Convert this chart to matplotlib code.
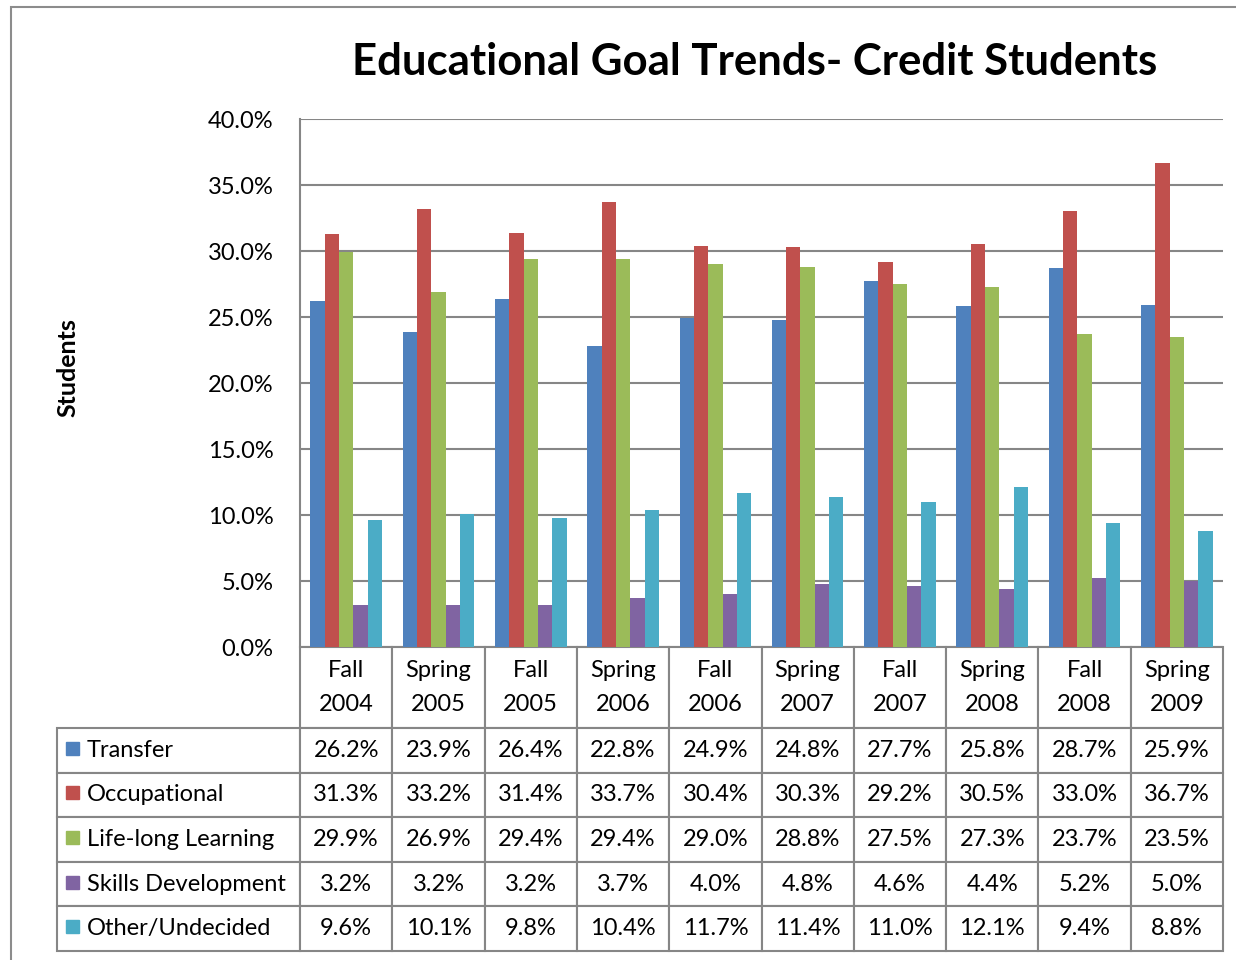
"""Educational goal trends for credit students: grouped bars with an Excel-style data table."""
import numpy as np
import matplotlib
matplotlib.use("Agg")
import matplotlib.pyplot as plt
from matplotlib.patches import Rectangle
from matplotlib.ticker import FuncFormatter

plt.rcParams.update({"font.family": ["Lato", "DejaVu Sans"], "font.size": 17})

terms = ["Fall\n2004", "Spring\n2005", "Fall\n2005", "Spring\n2006", "Fall\n2006",
         "Spring\n2007", "Fall\n2007", "Spring\n2008", "Fall\n2008", "Spring\n2009"]
series_names = ["Transfer", "Occupational", "Life-long Learning", "Skills Development", "Other/Undecided"]
transfer = [26.2, 23.9, 26.4, 22.8, 24.9, 24.8, 27.7, 25.8, 28.7, 25.9]
occupational = [31.3, 33.2, 31.4, 33.7, 30.4, 30.3, 29.2, 30.5, 33.0, 36.7]
lifelong = [29.9, 26.9, 29.4, 29.4, 29.0, 28.8, 27.5, 27.3, 23.7, 23.5]
skills = [3.2, 3.2, 3.2, 3.7, 4.0, 4.8, 4.6, 4.4, 5.2, 5.0]
other = [9.6, 10.1, 9.8, 10.4, 11.7, 11.4, 11.0, 12.1, 9.4, 8.8]
yticks = [0, 5, 10, 15, 20, 25, 30, 35, 40]

series = [transfer, occupational, lifelong, skills, other]
colors = ["#4F81BD", "#C0504D", "#9BBB59", "#8064A2", "#4BACC6"]
GRID = "#868686"

W, H = 1236, 960
fig = plt.figure(figsize=(W / 100, H / 100), dpi=100)
# outer chart border
fig.patches.append(Rectangle((11 / W, -0.01), 1.0, (H - 7) / H + 0.01, transform=fig.transFigure,
                             fill=False, edgecolor="#8c8c8c", lw=1.5))

L, R, T, B = 300, 1223, 119, 647
ax = fig.add_axes([L / W, 1 - B / H, (R - L) / W, (B - T) / H])

x = np.arange(len(terms))
bw = 0.155
for i, (vals, c) in enumerate(zip(series, colors)):
    ax.bar(x + (i - 2) * bw, vals, bw, color=c, zorder=3)

ax.set_xlim(-0.5, len(terms) - 0.5)
ax.set_ylim(0, 40)
ax.set_yticks(yticks)
ax.yaxis.set_major_formatter(FuncFormatter(lambda v, p: "%.1f%%" % v))
ax.tick_params(axis="y", length=0, pad=19, labelsize=17)
ax.set_xticks([])
ax.grid(axis="y", color=GRID, lw=1.5, zorder=0)
for s in ["top", "right", "bottom"]:
    ax.spines[s].set_visible(False)
ax.spines["left"].set_color(GRID)
ax.spines["left"].set_linewidth(1.5)

# data table below the plot
TL, TB = 57, 951
col_w = [L - TL] + [(R - L) / len(terms)] * len(terms)
row_h = [81] + [(TB - B - 81) / len(series)] * len(series)
cell_text = [[""] + terms] + [[n] + ["%.1f%%" % v for v in vals] for n, vals in zip(series_names, series)]
tbl = ax.table(cellText=cell_text, cellLoc="center",
               bbox=[(TL - L) / (R - L), -(TB - B) / (B - T), (R - TL) / (R - L), (TB - B) / (B - T)])
tbl.auto_set_font_size(False)
tbl.set_fontsize(17)
for (r, c), cell in tbl.get_celld().items():
    cell.set_width(col_w[c])
    cell.set_height(row_h[r])
    cell.set_edgecolor(GRID)
    cell.set_linewidth(1.5)
    if r == 0:
        cell.get_text().set_linespacing(1.75)
        if c == 0:
            cell.visible_edges = "open"
    if c == 0 and r > 0:
        cell._loc = "left"
        cell.get_text().set_horizontalalignment("left")
        cell.PAD = 30 / (L - TL)

# legend keys in the row-label column
for i, c in enumerate(colors):
    yc = B + 81 + (i + 0.5) * row_h[1] - 2
    fig.patches.append(Rectangle((66 / W, 1 - (yc + 6.5) / H), 13 / W, 13 / H,
                                 transform=fig.transFigure, color=c))

fig.text(755 / W, 1 - 62 / H, "Educational Goal Trends- Credit Students",
         ha="center", va="center", fontsize=31.5, fontweight="bold")
fig.text(68 / W, 1 - 368 / H, "Students", rotation=90, ha="center", va="center",
         fontsize=18, fontweight="bold")

fig.savefig("out.png", dpi=100)
